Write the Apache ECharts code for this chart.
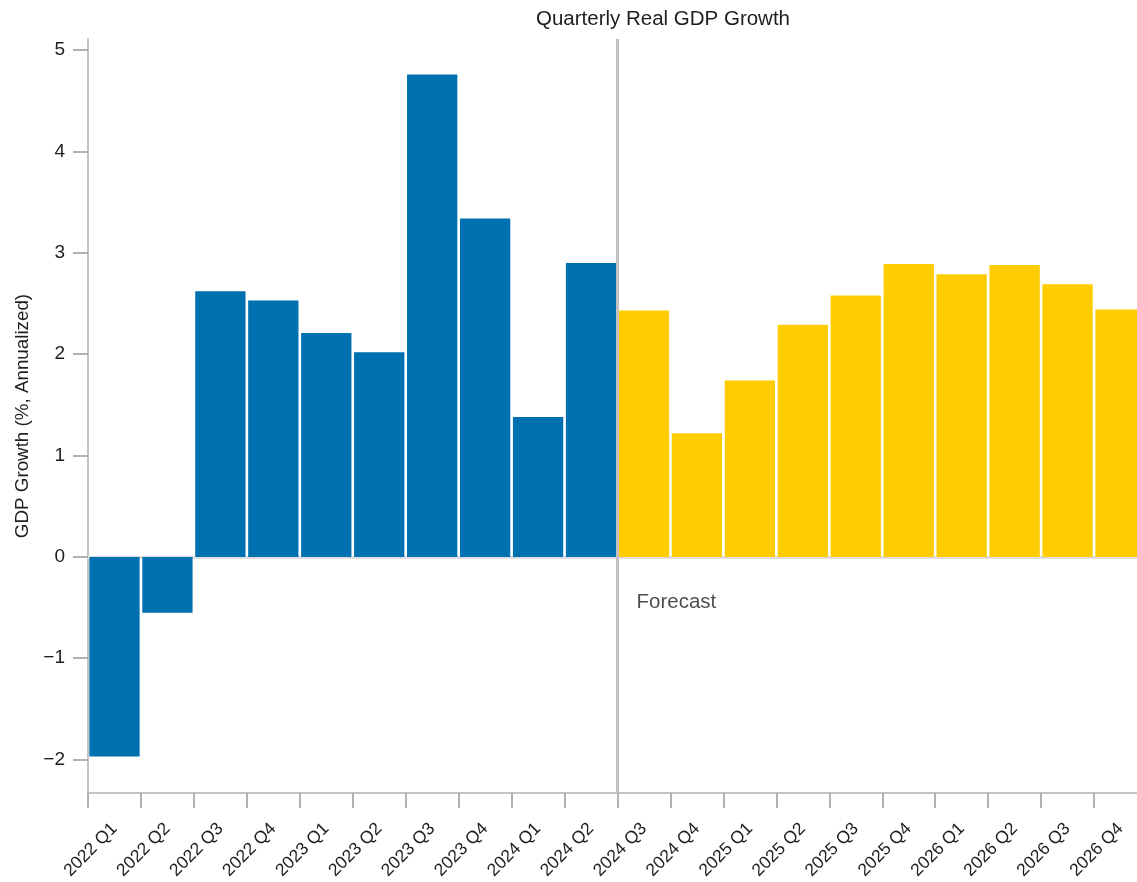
<!DOCTYPE html>
<html>
<head>
<meta charset="utf-8">
<script src="https://cdn.jsdelivr.net/npm/echarts@6/dist/echarts.min.js"></script>
<style>
html,body{margin:0;padding:0;background:#fff;}
#wrap{width:1137px;height:882px;overflow:hidden;position:relative;}
#chart{width:1147px;height:882px;position:absolute;left:0;top:0;}
</style>
</head>
<body>
<div id="wrap"><div id="chart"></div></div>
<script>
const categories = ['2022 Q1','2022 Q2','2022 Q3','2022 Q4','2023 Q1','2023 Q2','2023 Q3','2023 Q4','2024 Q1','2024 Q2','2024 Q3','2024 Q4','2025 Q1','2025 Q2','2025 Q3','2025 Q4','2026 Q1','2026 Q2','2026 Q3','2026 Q4'];
const gdpGrowth = [-1.97, -0.55, 2.62, 2.53, 2.21, 2.02, 4.76, 3.34, 1.38, 2.90, 2.43, 1.22, 1.74, 2.29, 2.58, 2.89, 2.79, 2.88, 2.69, 2.44];
const forecastStart = '2024 Q3';
const yTicks = [-2, -1, 0, 1, 2, 3, 4, 5];
const yMin = -2.33, yMax = 5.11;
const forecastLabel = 'Forecast';
const forecastLabelY = -0.45;

const fIdx = categories.indexOf(forecastStart);
const BLUE = '#0071B0', YELLOW = '#FFCC00';
const FONT = 'Liberation Sans, Arial, sans-serif';
const TXT = '#1e1e1e';

const chart = echarts.init(document.getElementById('chart'));
chart.setOption({
  animation: false,
  backgroundColor: '#fff',
  title: {
    text: 'Quarterly Real GDP Growth',
    left: 658, top: 4, textAlign: 'center',
    textStyle: {fontFamily: FONT, fontSize: 20.5, fontWeight: 'normal', color: TXT}
  },
  grid: {left: 88, right: 0, top: 39, bottom: 85, containLabel: false},
  xAxis: [{
    type: 'category', data: categories, position: 'bottom',
    axisLine: {show: true, onZero: false, lineStyle: {color: '#c4c4c4', width: 2}},
    axisTick: {show: true, length: 15, lineStyle: {color: '#999', width: 1.5}},
    axisLabel: {rotate: 45, margin: 33, interval: 0, fontFamily: FONT, fontSize: 17.5, color: TXT},
    splitLine: {show: false}
  }, {
    type: 'category', data: categories, position: 'top',
    axisLine: {show: true, lineStyle: {color: '#dedede', width: 3}},
    axisTick: {show: false}, axisLabel: {show: false}
  }, {
    type: 'value', min: 0, max: categories.length, show: false
  }],
  yAxis: {
    type: 'value', min: yMin, max: yMax,
    name: 'GDP Growth (%, Annualized)', nameLocation: 'middle', nameGap: 56,
    nameTextStyle: {fontFamily: FONT, fontSize: 18.8, color: TXT},
    axisLine: {show: true, lineStyle: {color: '#c4c4c4', width: 2}},
    axisTick: {show: true, length: 15, customValues: yTicks, lineStyle: {color: '#999', width: 1.5}},
    axisLabel: {customValues: yTicks, margin: 23, fontFamily: FONT, fontSize: 19, color: TXT,
      formatter: v => (v < 0 ? '\u2212' + Math.abs(v) : String(v))},
    splitLine: {show: false}
  },
  series: [{
    type: 'bar', xAxisIndex: 0,
    barCategoryGap: '5%',
    data: gdpGrowth.map((v, i) => ({value: v, itemStyle: {color: i >= fIdx ? YELLOW : BLUE}}))
  }, {
    type: 'scatter', xAxisIndex: 2, symbolSize: 0,
    data: [[fIdx, forecastLabelY]],
    label: {show: true, position: 'right', distance: 19, formatter: forecastLabel,
      fontFamily: FONT, fontSize: 20.5, color: TXT},
    markLine: {
      silent: true, symbol: 'none', label: {show: false},
      lineStyle: {color: '#c2c2c2', width: 3, type: 'solid'},
      data: [{xAxis: fIdx}]
    }
  }]
});
</script>
</body>
</html>
